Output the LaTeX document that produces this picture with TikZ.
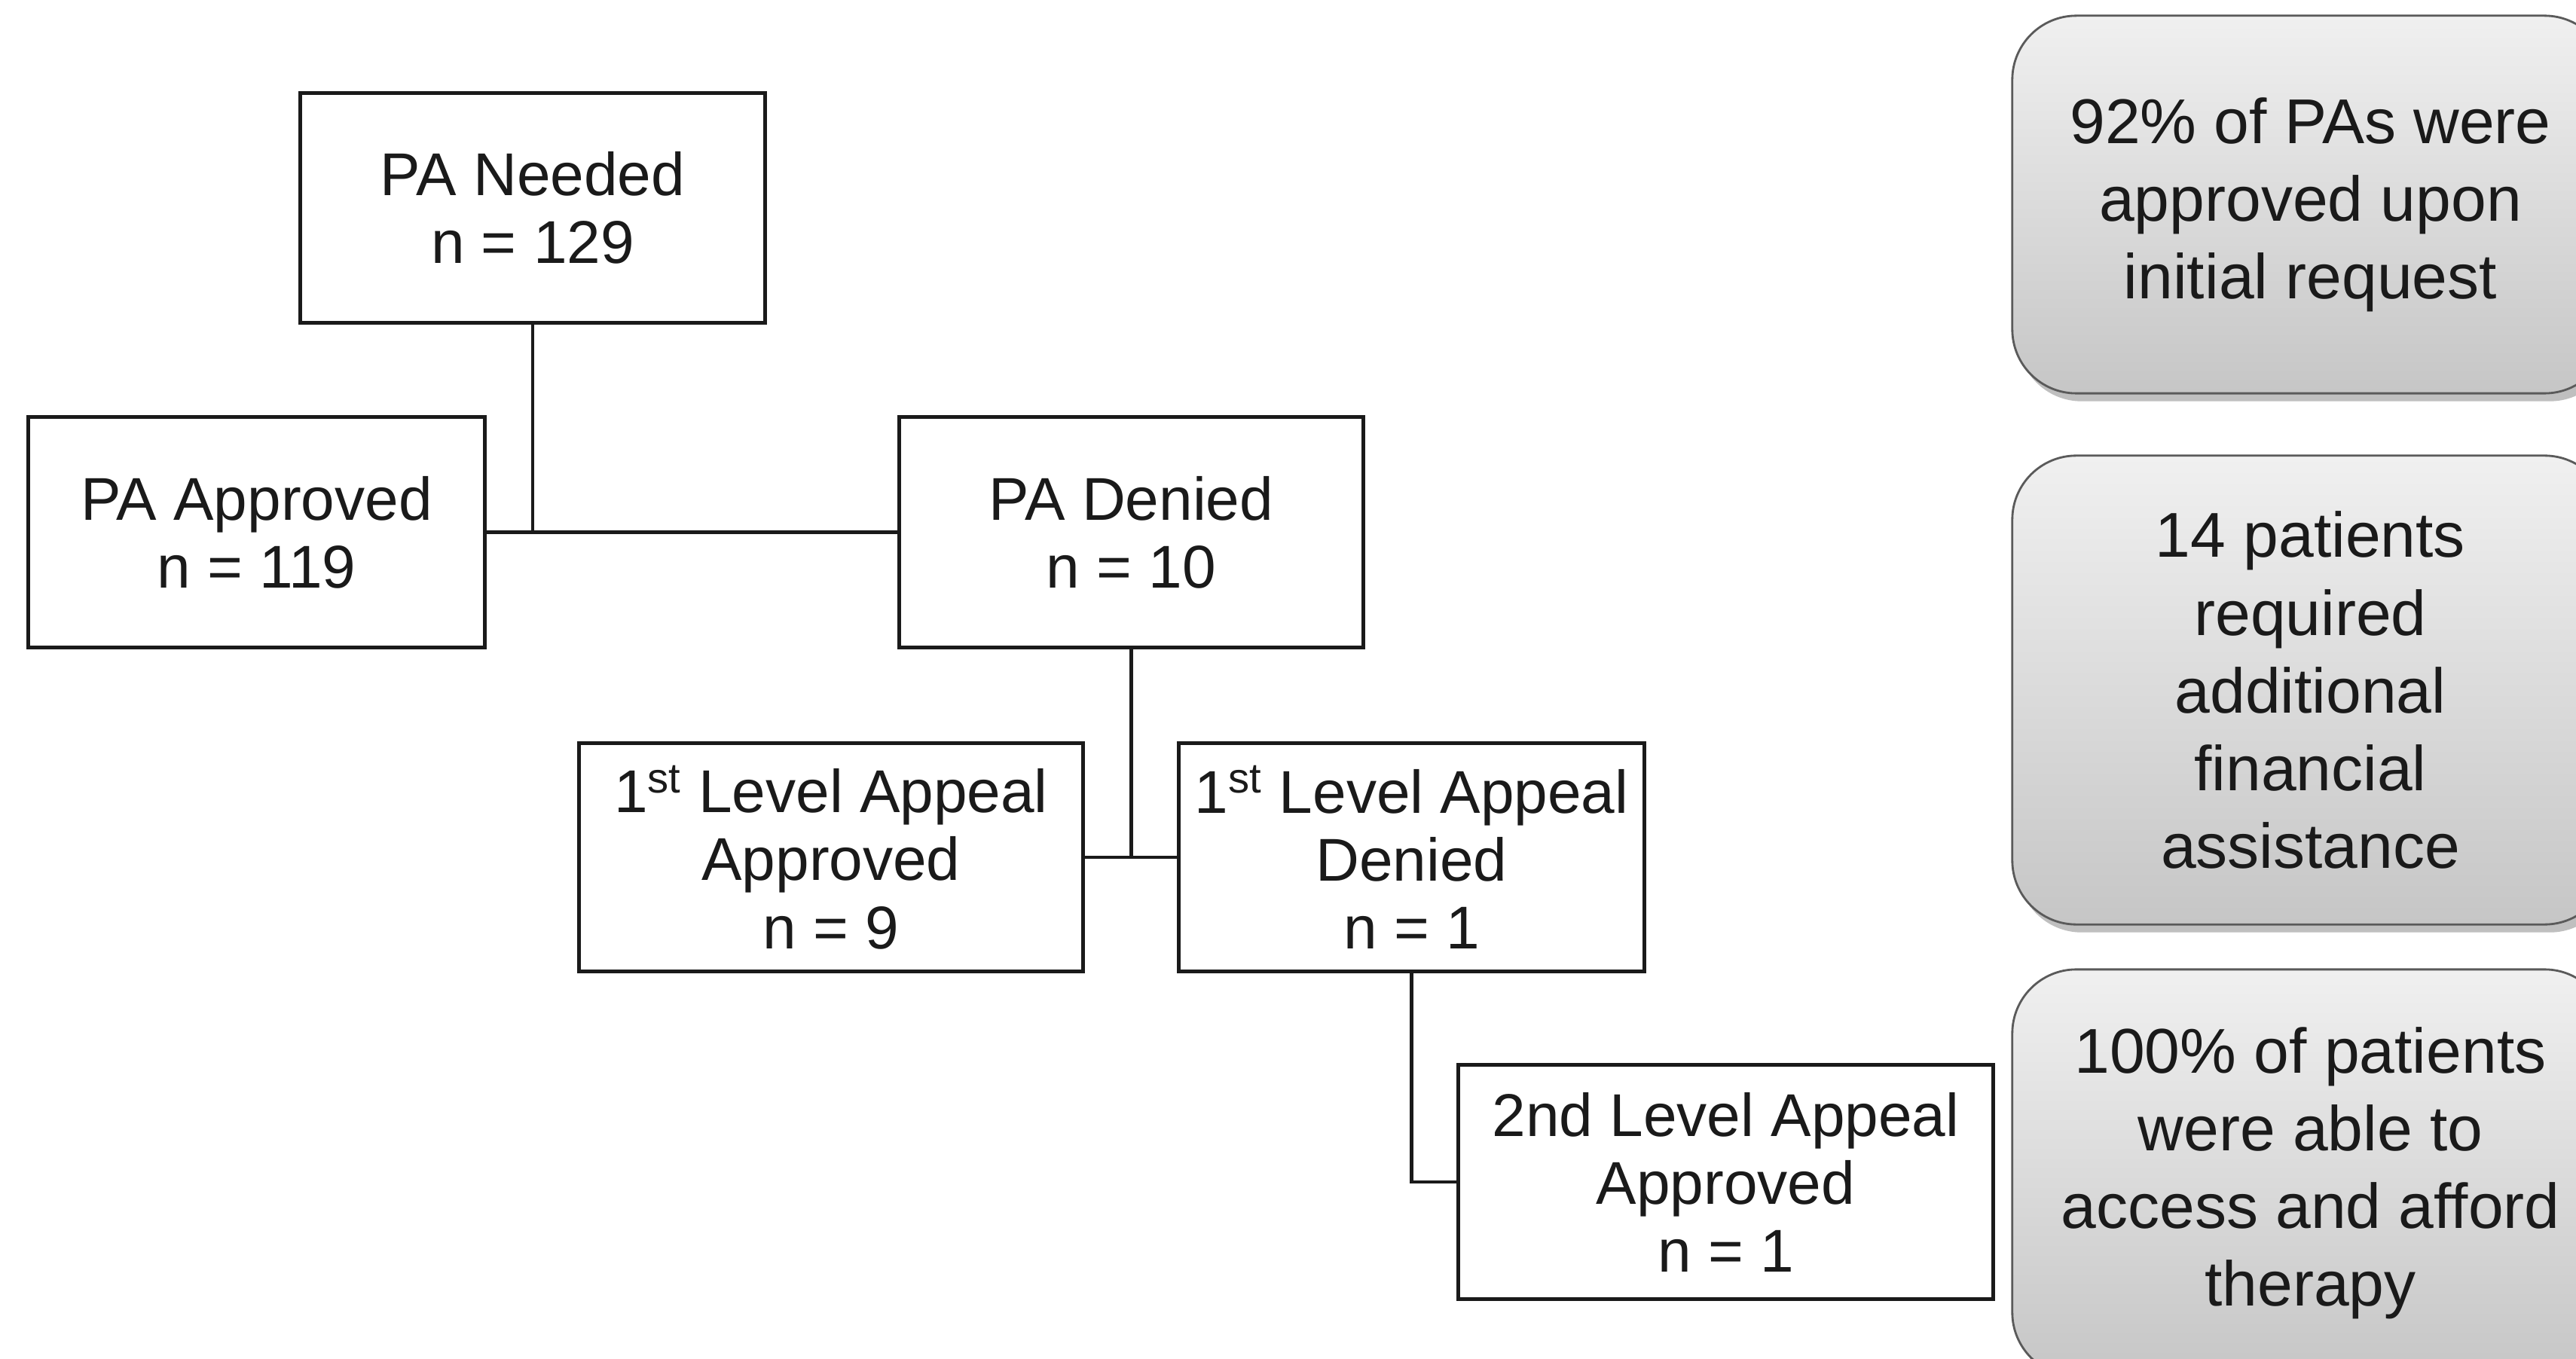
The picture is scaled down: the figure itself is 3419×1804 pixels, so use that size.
\documentclass[tikz,border=0pt]{standalone}
\usepackage{fontspec}
\setmainfont{Liberation Sans}
\usetikzlibrary{shadows}
\definecolor{txt}{HTML}{1A1A1A}
\definecolor{noteTop}{HTML}{F0F0F0}
\definecolor{noteBot}{HTML}{C6C6C6}
\definecolor{noteLine}{HTML}{5A5A5A}
\begin{document}
\begin{tikzpicture}[x=0.01cm,y=-0.01cm,
  box/.style={draw=txt, line width=1.4pt, rectangle, inner sep=0pt, align=center,
    font=\fontsize{22.8pt}{25.6pt}\selectfont, text=txt},
  note/.style={draw=noteLine, line width=0.8pt, rounded corners=0.85cm,
    top color=noteTop, bottom color=noteBot, inner sep=0pt, align=center,
    minimum width=7.91cm,
    font=\fontsize{23.9pt}{29.3pt}\selectfont, text=txt,
    drop shadow={shadow xshift=2pt, shadow yshift=-3pt, opacity=0.25, fill=black}},
  link/.style={line width=1.3pt, draw=txt}]
\useasboundingbox (0,0) rectangle (3419,1804);
\clip (0,0) rectangle (3419,1804);

% flow boxes
\node[box, minimum width=6.16cm, minimum height=3.04cm] (need) at (707,276) {PA Needed\\n = 129};
\node[box, minimum width=6.05cm, minimum height=3.05cm] (appr) at (340.5,706.5) {PA Approved\\n = 119};
\node[box, minimum width=6.15cm, minimum height=3.05cm] (den) at (1501.5,706.5) {PA Denied\\n = 10};
\node[box, minimum width=6.68cm, minimum height=3.02cm] (aone) at (1103,1138) {1\textsuperscript{st} Level Appeal\\Approved\\n = 9};
\node[box, minimum width=6.17cm, minimum height=3.02cm] (done) at (1873.5,1138) {1\textsuperscript{st} Level Appeal\\Denied\\n = 1};
\node[box, minimum width=7.09cm, minimum height=3.10cm] (atwo) at (2290.5,1569) {2nd Level Appeal\\Approved\\n = 1};

% connectors
\draw[link] (appr.east) -- (den.west);
\draw[link] (need.south) -- (need.south |- appr.east);
\draw[link] (aone.east) -- (done.west);
\draw[link] (den.south) -- (den.south |- aone.east);
\draw[link] (done.south) |- (atwo.west);

% summary notes
\node[note, minimum height=5.01cm] (nA) at (3066.5,271.5) {92\% of PAs were\\approved upon\\initial request};
\node[note, minimum height=6.22cm] (nB) at (3066.5,916) {14 patients\\required\\additional\\financial\\assistance};
\node[note, minimum height=5.40cm] (nC) at (3066.5,1557) {100\% of patients\\were able to\\access and afford\\therapy};
\end{tikzpicture}
\end{document}
